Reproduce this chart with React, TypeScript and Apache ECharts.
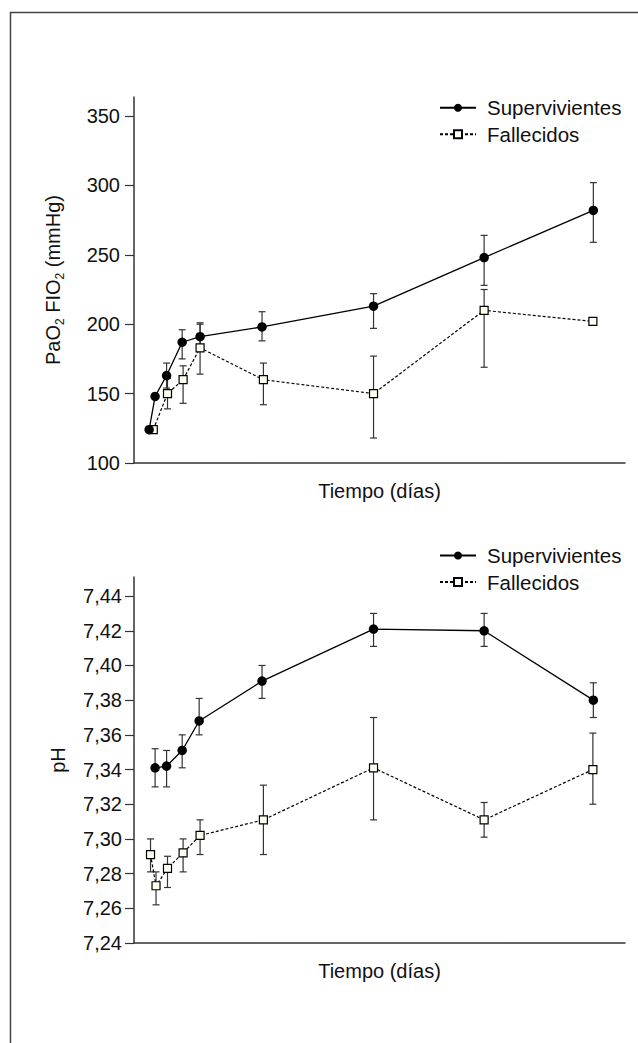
import React, { useEffect, useRef } from "react";
import * as echarts from "echarts";

// ---- Data (time in hours) ----
const topSupX = [-0.7, 0.6, 3.1, 6.5, 10.4, 23.9, 48.2, 72.3, 96.1];
const topSupY = [124, 148, 163, 187, 191, 198, 213, 248, 282];
const topSupLo = [null, null, 154, 175, 182, 188, 197, 228, 259];
const topSupHi = [null, null, 172, 196, 200, 209, 222, 264, 302];

const topFalX = [0.2, 3.3, 6.7, 10.4, 24.2, 48.2, 72.3, 96.0];
const topFalY = [124, 150, 160, 183, 160, 150, 210, 202];
const topFalLo = [null, 139, 143, 164, 142, 118, 169, null];
const topFalHi = [null, 161, 170, 201, 172, 177, 225, null];

const botSupX = [0.6, 3.1, 6.5, 10.2, 23.9, 48.2, 72.3, 96.1];
const botSupY = [7.341, 7.342, 7.351, 7.368, 7.391, 7.421, 7.420, 7.380];
const botSupLo = [7.330, 7.330, 7.341, 7.360, 7.381, 7.411, 7.411, 7.370];
const botSupHi = [7.352, 7.351, 7.360, 7.381, 7.400, 7.430, 7.430, 7.390];

const botFalX = [-0.4, 0.8, 3.3, 6.7, 10.4, 24.2, 48.2, 72.3, 96.0];
const botFalY = [7.291, 7.273, 7.283, 7.292, 7.302, 7.311, 7.341, 7.311, 7.340];
const botFalLo = [7.281, 7.262, 7.272, 7.281, 7.291, 7.291, 7.311, 7.301, 7.320];
const botFalHi = [7.300, 7.281, 7.290, 7.300, 7.311, 7.331, 7.370, 7.321, 7.361];

const topTicks = [100, 150, 200, 250, 300, 350];
const botTicks = [7.24, 7.26, 7.28, 7.30, 7.32, 7.34, 7.36, 7.38, 7.40, 7.42, 7.44];

const SUP = "Supervivientes";
const FAL = "Fallecidos";
const XNAME = "Tiempo (días)";

const FONT = "'Liberation Sans', Arial, Helvetica, sans-serif";
const INK = "#111";
const AXIS = "#333";

function pairs(xs: number[], ys: number[]) {
  return xs.map((x, i) => [x, ys[i]]);
}
function errs(xs: number[], lo: (number | null)[], hi: (number | null)[]) {
  const out: number[][] = [];
  xs.forEach((x, i) => {
    if (lo[i] != null && hi[i] != null) out.push([x, lo[i] as number, hi[i] as number]);
  });
  return out;
}

function renderErr(params: any, api: any) {
  const x = api.value(0);
  const a = api.coord([x, api.value(1)]);
  const b = api.coord([x, api.value(2)]);
  const w = 3.5;
  const style = { stroke: AXIS, lineWidth: 1.2 };
  return {
    type: "group",
    children: [
      { type: "line", shape: { x1: a[0], y1: a[1], x2: b[0], y2: b[1] }, style },
      { type: "line", shape: { x1: a[0] - w, y1: a[1], x2: a[0] + w, y2: a[1] }, style },
      { type: "line", shape: { x1: b[0] - w, y1: b[1], x2: b[0] + w, y2: b[1] }, style },
    ],
  };
}

function errSeries(data: number[][], idx: number) {
  return {
    type: "custom",
    xAxisIndex: idx,
    yAxisIndex: idx,
    renderItem: renderErr,
    encode: { x: 0, y: [1, 2] },
    data,
    z: 1,
    silent: true,
  };
}

function supSeries(data: number[][], idx: number) {
  return {
    name: SUP,
    type: "line",
    xAxisIndex: idx,
    yAxisIndex: idx,
    data,
    symbol: "circle",
    symbolSize: 9.5,
    itemStyle: { color: "#000", borderColor: "#000", borderWidth: 0 },
    lineStyle: { color: "#000", width: 1.3, type: "solid" },
    z: 3,
  };
}

function falSeries(data: number[][], idx: number) {
  return {
    name: FAL,
    type: "line",
    xAxisIndex: idx,
    yAxisIndex: idx,
    data,
    symbol: "rect",
    symbolSize: 8,
    itemStyle: { color: "#fffff2", borderColor: "#000", borderWidth: 1.2 },
    lineStyle: { color: "#000", width: 1.2, type: [3, 2] },
    z: 2,
  };
}

function xAxis(idx: number) {
  return {
    gridIndex: idx,
    type: "value",
    min: -4,
    max: 103,
    axisLine: { show: true, onZero: false, lineStyle: { color: AXIS, width: 1.5 } },
    axisTick: { show: false },
    axisLabel: { show: false },
    splitLine: { show: false },
    name: XNAME,
    nameLocation: "middle",
    nameGap: 18,
    nameTextStyle: { fontSize: 20, color: INK, fontFamily: FONT },
  };
}

function legend(top: number) {
  return {
    data: [SUP, FAL],
    orient: "vertical",
    left: 439,
    top,
    padding: 0,
    itemWidth: 36,
    itemHeight: 10,
    itemGap: 5.5,
    selectedMode: false,
    textStyle: { fontSize: 20.5, color: INK, fontFamily: FONT, padding: [0, 0, 0, 6] },
  };
}

export default function App() {
  const ref = useRef<HTMLDivElement>(null);
  useEffect(() => {
    if (!ref.current) return;
    const chart = echarts.init(ref.current, undefined, { renderer: "svg" });
    const option: any = {
      animation: false,
      backgroundColor: "#fff",
      textStyle: { fontFamily: FONT },
      graphic: [
        {
          type: "rect",
          silent: true,
          z: -10,
          shape: { x: 10.5, y: 12.5, width: 700, height: 1100 },
          style: { fill: "none", stroke: "#444", lineWidth: 1.5 },
        },
      ],
      grid: [
        { left: 134, top: 97, width: 491, height: 366 },
        { left: 134, top: 577, width: 491, height: 366 },
      ],
      legend: [legend(97.3), legend(545)],
      xAxis: [xAxis(0), xAxis(1)],
      yAxis: [
        {
          gridIndex: 0,
          type: "value",
          min: 100,
          max: 363.7,
          axisLine: { show: true, onZero: false, lineStyle: { color: AXIS, width: 1.5 } },
          axisTick: { show: true, length: 9, customValues: topTicks, lineStyle: { color: AXIS, width: 1.2 } },
          axisLabel: { customValues: topTicks, fontSize: 20, color: INK, fontFamily: FONT, margin: 14 },
          splitLine: { show: false },
          name: "PaO{s|2} FIO{s|2} (mmHg)",
          nameLocation: "middle",
          nameGap: 68,
          nameTextStyle: {
            fontSize: 20,
            color: INK,
            fontFamily: FONT,
            lineHeight: 26,
            rich: {
              s: { fontSize: 12, lineHeight: 26, verticalAlign: "bottom", fontFamily: FONT, color: INK },
            },
          },
        },
        {
          gridIndex: 1,
          type: "value",
          min: 7.24,
          max: 7.451,
          axisLine: { show: true, onZero: false, lineStyle: { color: AXIS, width: 1.5 } },
          axisTick: { show: true, length: 9, customValues: botTicks, lineStyle: { color: AXIS, width: 1.2 } },
          axisLabel: {
            customValues: botTicks,
            fontSize: 20,
            color: INK,
            fontFamily: FONT,
            margin: 12,
            formatter: (v: number) => v.toFixed(2).replace(".", ","),
          },
          splitLine: { show: false },
          name: "pH",
          nameLocation: "middle",
          nameGap: 66,
          nameTextStyle: { fontSize: 20, color: INK, fontFamily: FONT },
        },
      ],
      series: [
        errSeries(errs(topSupX, topSupLo, topSupHi), 0),
        errSeries(errs(topFalX, topFalLo, topFalHi), 0),
        supSeries(pairs(topSupX, topSupY), 0),
        falSeries(pairs(topFalX, topFalY), 0),
        errSeries(errs(botSupX, botSupLo, botSupHi), 1),
        errSeries(errs(botFalX, botFalLo, botFalHi), 1),
        supSeries(pairs(botSupX, botSupY), 1),
        falSeries(pairs(botFalX, botFalY), 1),
      ],
    };
    chart.setOption(option);
    return () => chart.dispose();
  }, []);
  return (
    <div
      ref={ref}
      style={{ position: "absolute", left: 0, top: 0, width: 638, height: 1043, background: "#fff" }}
    />
  );
}
